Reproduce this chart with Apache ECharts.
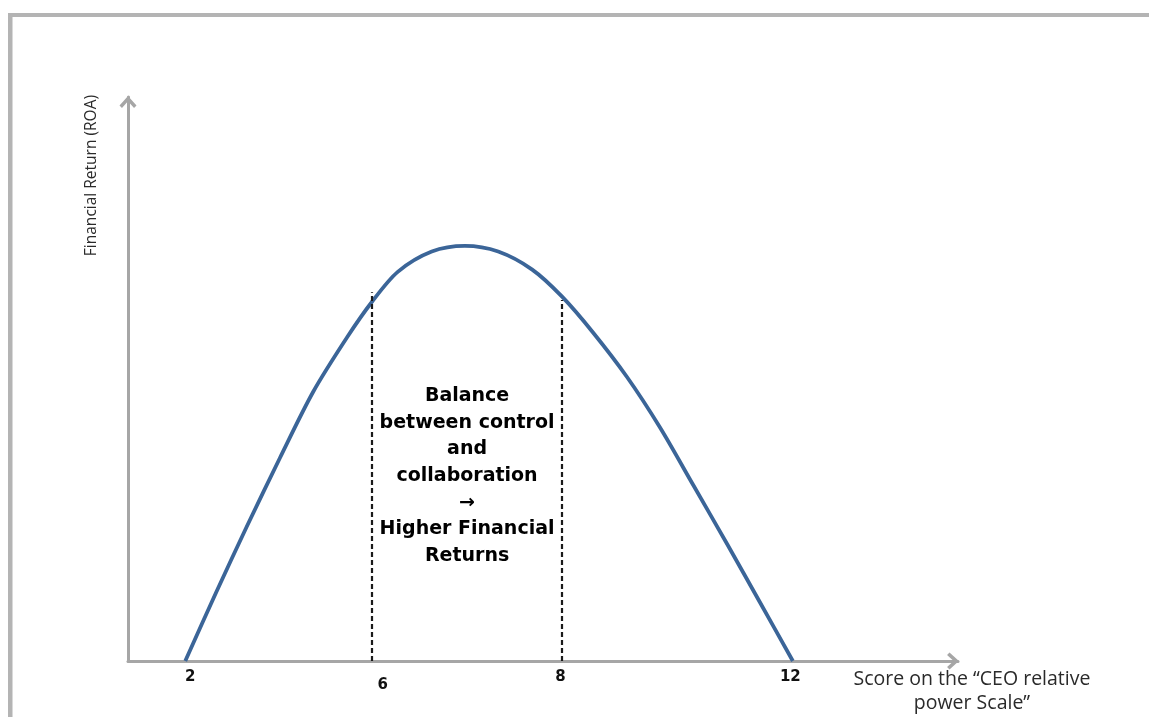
<!DOCTYPE html>
<html>
<head>
<meta charset="utf-8">
<script src="https://cdn.jsdelivr.net/npm/echarts@6/dist/echarts.min.js"></script>
<style>
html,body{margin:0;padding:0;background:#fff;}
#chart{width:1149px;height:717px;}
</style>
</head>
<body>
<div id="chart"></div>
<script>
// Schematic curve (x in relative axis units 0-100, y in relative units 0-100)
const curveX = [6.9, 10.6, 14.3, 18.3, 22.3, 26.4, 29.4, 32.5, 36.6, 40.6, 44.6, 48.7, 52.3, 56.0, 60.1, 64.1, 68.1, 72.2, 76.1, 80.1];
const curveY = [0, 12.1, 23.8, 36.0, 47.7, 57.4, 63.7, 69.0, 72.6, 73.6, 72.6, 69.4, 64.6, 58.3, 50.4, 41.4, 31.2, 20.7, 10.5, 0];

// Tick labels shown on the score axis and where they sit
const tickPositions = [7.5, 30.7, 52.1, 79.8];
const tickLabels = ['2', '6', '8', '12'];

// Dashed boundary lines of the balanced zone
const zoneX = [29.4, 52.3];
const zoneTop = [65.4, 64.0];

// Zone text
const zoneText = ['Balance', 'between control', 'and', 'collaboration', '\u2192', 'Higher Financial', 'Returns'];
const zoneTextY = [17.8, 47.8];

const xName = 'Score on the \u201CCEO relative\npower Scale\u201D';
const yName = 'Financial Return (ROA)';

const chart = echarts.init(document.getElementById('chart'));
const chevron = 'path://M9 0 L18 10 L15.4 12.6 L9 5.6 L2.6 12.6 L0 10 Z';

const option = {
  animation: false,
  backgroundColor: '#fff',
  grid: { left: 128, right: 191, top: 97, bottom: 56 },
  graphic: [
    { type: 'rect', shape: { x: 8, y: 13, width: 1141, height: 4 }, style: { fill: '#b4b4b4' }, silent: true },
    { type: 'rect', shape: { x: 8, y: 13, width: 4.5, height: 704 }, style: { fill: '#b4b4b4' }, silent: true }
  ],
  xAxis: {
    type: 'value',
    min: 0, max: 100,
    name: xName,
    nameLocation: 'end',
    nameGap: 14,
    nameTextStyle: {
      fontFamily: 'Open Sans', fontSize: 19.5, color: '#2a2a2a',
      align: 'center', verticalAlign: 'top', lineHeight: 24, padding: [6, 0, 0, 0]
    },
    axisLine: {
      lineStyle: { color: '#a6a6a6', width: 3 },
      symbol: ['none', chevron], symbolSize: [17, 14], symbolOffset: [0, -5]
    },
    axisTick: { show: false },
    splitLine: { show: false },
    axisLabel: {
      customValues: tickPositions,
      margin: 9,
      fontFamily: 'DejaVu Sans', fontWeight: 'bold', fontSize: 15, color: '#111',
      formatter: function (v) {
        const i = tickPositions.indexOf(v);
        const t = i >= 0 ? tickLabels[i] : '';
        return t === '6' ? '{low|' + t + '}' : t;
      },
      rich: { low: { fontFamily: 'DejaVu Sans', fontWeight: 'bold', fontSize: 15, color: '#111', padding: [8, 0, 0, 0] } }
    }
  },
  yAxis: [{
    type: 'value',
    min: 0, max: 100,
    axisLine: {
      show: true,
      lineStyle: { color: '#a6a6a6', width: 3 },
      symbol: ['none', chevron], symbolSize: [17, 14], symbolOffset: [0, -5]
    },
    axisTick: { show: false },
    splitLine: { show: false },
    axisLabel: { show: false }
  }, {
    type: 'value',
    min: 0, max: 100,
    position: 'left',
    offset: 36,
    name: yName,
    nameLocation: 'end',
    nameGap: 2,
    nameRotate: 90,
    nameTextStyle: {
      fontFamily: 'Open Sans', fontSize: 15.5, color: '#2a2a2a',
      align: 'right', verticalAlign: 'middle'
    },
    axisLine: { show: false },
    axisTick: { show: false },
    splitLine: { show: false },
    axisLabel: { show: false }
  }],
  series: [{
    type: 'line',
    yAxisIndex: 0,
    data: curveX.map((x, i) => [x, curveY[i]]),
    smooth: 0.3,
    showSymbol: false,
    symbol: 'none',
    lineStyle: { color: '#3b6598', width: 3.8, join: 'round' },
    z: 3,
    markLine: {
      silent: true,
      symbol: ['none', 'none'],
      label: { show: false },
      lineStyle: { color: '#1a1a1a', width: 2.2, type: [5, 3] },
      data: zoneX.map((x, i) => [{ coord: [x, 0] }, { coord: [x, zoneTop[i]] }])
    },
    markArea: {
      silent: true,
      itemStyle: { color: 'rgba(0,0,0,0)' },
      label: {
        show: true,
        position: 'inside',
        formatter: zoneText.join('\n'),
        fontFamily: 'DejaVu Sans', fontWeight: 'bold', fontSize: 19,
        lineHeight: 26.6, color: '#000', align: 'center', verticalAlign: 'middle'
      },
      data: [[{ coord: [zoneX[0], zoneTextY[0]] }, { coord: [zoneX[1], zoneTextY[1]] }]]
    }
  }]
};
chart.setOption(option);
</script>
</body>
</html>
